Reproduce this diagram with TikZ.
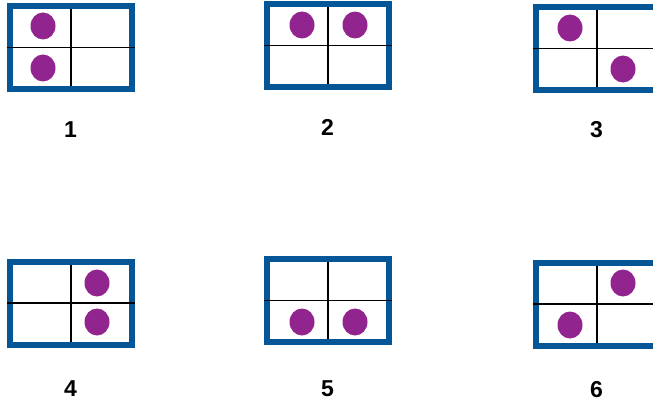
\documentclass[tikz,border=0pt]{standalone}
\usepackage{fontspec}
\setmainfont{Liberation Sans}
\definecolor{frameblue}{RGB}{4,86,150}
\definecolor{dotpurple}{RGB}{146,36,143}

\begin{document}
\begin{tikzpicture}[x=1pt, y=-1pt,
 frame/.style={draw=frameblue,line width=6pt},
 cross/.style={draw=black,line width=1.8pt},
 marble/.style={fill=dotpurple},
 caption/.style={font=\bfseries\fontsize{23}{27}\selectfont,inner sep=0pt}]
\useasboundingbox (0,0) rectangle (653,404);
\clip (0,0) rectangle (653,404);
% six grids with their numbers
\foreach \cx/\cy/\ly/\n in {71/47.5/130/1, 328/45.5/127/2, 597/48.5/130/3, 71/303/389/4, 328/300.5/389/5, 597/304/390/6}{
 \draw[frame] (\cx-61,\cy-41.5) rectangle (\cx+61,\cy+41.5);
 \draw[cross] (\cx-64,\cy) -- (\cx+64,\cy);
 \draw[cross] (\cx,\cy-38.5) -- (\cx,\cy+38.5);
 \node[caption] (num\n) at (\cx-0.5,\ly) {\n};
}
% the dots
\foreach \x/\y in {43/26, 43/68, 302/25, 355/25, 570/28, 623/69, 97/283, 97/322, 302/322, 355/322, 623/283, 570/325}
 \fill[marble] (\x,\y) ellipse [x radius=12.5pt, y radius=13.5pt];
\end{tikzpicture}
\end{document}
